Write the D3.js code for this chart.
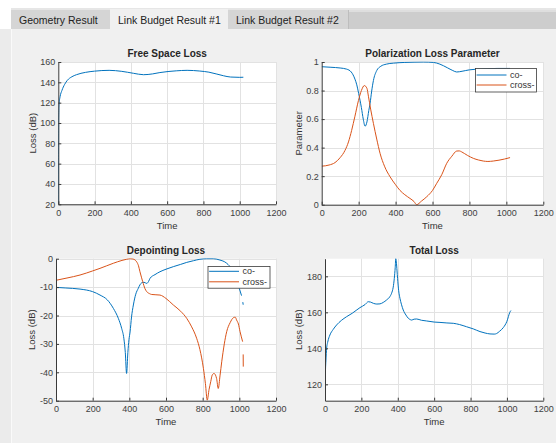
<!DOCTYPE html>
<html><head><meta charset="utf-8">
<script src="https://cdn.jsdelivr.net/npm/d3@7"></script>
<style>body{margin:0;background:#fff;font-family:Arial,"Liberation Sans",sans-serif}svg{display:block}</style>
</head><body><svg id="c" width="556" height="443"></svg>
<script>
// ---------- data ----------
const tabLabels = ["Geometry Result", "Link Budget Result #1", "Link Budget Result #2"];
const xTicks = [0, 200, 400, 600, 800, 1000, 1200];

const freeTicks = [20, 40, 60, 80, 100, 120, 140, 160];
const freeTime = [0,1,2,4,10,20,35,50,75,100,150,200,280,350,414,470,520,560,650,710,780,830,870,910,950,1000,1020];
const freeLoss = [20,60,105,118,126,132,138,142,145.5,147.5,149.8,151,151.8,150.8,148.9,147.5,148.3,149.6,151.3,151.8,151.1,150,148.3,146.5,145.2,144.9,145];

const polTicks = [0, 0.2, 0.4, 0.6, 0.8, 1];
const polCoTime = [0,50,100,135,160,180,190,200,215,225,235,245,255,262,270,280,298,320,350,388,450,500,550,605,640,680,710,731,760,800,850,900,950,1000,1020];
const polCo = [0.967,0.963,0.958,0.95,0.93,0.88,0.84,0.78,0.68,0.6,0.55,0.58,0.66,0.71,0.79,0.87,0.94,0.97,0.985,0.992,0.997,0.999,1.0,0.997,0.985,0.96,0.94,0.93,0.935,0.945,0.95,0.953,0.955,0.955,0.955];
const polCrossTime = [0,40,72,100,126,145,162,180,199,215,231,245,253,265,280,298,316,340,370,400,424,450,478,500,514,540,569,600,623,650,677,705,731,745,758,790,821,850,875,900,929,960,990,1020];
const polCross = [0.27,0.278,0.295,0.33,0.38,0.44,0.52,0.62,0.73,0.8,0.835,0.815,0.76,0.67,0.57,0.46,0.36,0.27,0.196,0.14,0.10,0.07,0.044,0.022,0.0,0.025,0.056,0.1,0.15,0.21,0.29,0.34,0.376,0.377,0.37,0.345,0.325,0.313,0.306,0.303,0.306,0.312,0.32,0.33];

const depTicks = [-50, -40, -30, -20, -10, 0];
const depCoTime = [0,50,131,200,240,280,313,340,358,370,378,385,392,398,404,412,422,435,449,458,467,480,495,505,513,540,567,600,640,680,713,750,785,820,858,890,931,960,985,1000,1012,null,1019,1021];
const depCo = [-10.1,-10.3,-10.7,-11.6,-12.8,-14.5,-17.5,-21,-24.5,-28,-33,-40.4,-33,-28.5,-25.8,-20.5,-16.3,-12.5,-10.4,-9.2,-8.5,-8.3,-8.7,-8,-6.9,-5.6,-4.6,-3.7,-2.8,-2,-1.3,-0.7,-0.2,0,0,-0.4,-1.6,-3.8,-7.5,-10.5,-13,null,-15.3,-16.2];
const depCrossTime = [0,60,131,200,240,313,360,385,405,420,432,440,450,458,466,473,485,495,510,522,545,567,600,640,680,713,740,767,785,804,815,825,835,844,852,862,870,876,885,895,904,918,931,950,967,978,985,995,1004,1018,null,1021,1021.5];
const depCross = [-7.6,-6.8,-5.75,-4.3,-3.4,-1.6,-0.6,-0.2,0,-0.1,-0.5,-1.1,-2.5,-4.6,-6.5,-8.1,-10.5,-11.6,-12.3,-12.6,-12.7,-12.8,-14,-16.3,-18.5,-21,-24,-28,-32,-38.6,-44,-49.8,-46,-43.3,-41,-40.4,-41,-42.2,-45.7,-41,-36.3,-30,-25.7,-22.5,-20.8,-20.6,-21.6,-23,-25.7,-29.2,null,-33.7,-38];

const totTicks = [120, 140, 160, 180];
const totTime = [0,2,5,9,15,27,45,64,90,119,150,192,220,238,250,266,285,302,320,339,355,366,375,381,386,389,392,396,399,405,412,420,430,445,458,468,476,490,504,530,559,600,632,670,705,740,778,815,852,880,907,930,943,960,980,1000,1016,1022];
const totLoss = [110.9,125,133,140,143.5,147.4,150.5,153,155.5,157.6,159.5,162.6,164.3,165.9,165.7,165,164.6,164.7,165.5,166.9,168.5,170.6,174,178.9,185,189.8,188,183,178.9,172,167.8,164.5,161.3,158.5,156.7,156,155.7,156.2,156.3,155.6,155.2,154.6,154.4,154.1,153.9,153.2,152,150.8,149.3,148.5,148,147.9,148.2,149.5,151.5,155,160,161];

const seriesNames = ["co-", "cross-"];
const BLUE = "#0072BD", ORANGE = "#D95319";

// ---------- chrome ----------
const svg = d3.select("#c");
svg.append("rect").attr("width",556).attr("height",443).attr("fill","#fff");
svg.append("rect").attr("x",0).attr("y",29).attr("width",11).attr("height",414).attr("fill","#ebebeb");
svg.append("rect").attr("x",11).attr("y",29).attr("width",545).attr("height",414).attr("fill","#f0f0f0");
svg.append("line").attr("x1",11.5).attr("x2",11.5).attr("y1",29).attr("y2",443).attr("stroke","#fafafa");
svg.append("rect").attr("x",11).attr("y",8).attr("width",545).attr("height",2).attr("fill","#e6e6e6");
svg.append("rect").attr("x",348).attr("y",10).attr("width",208).attr("height",19).attr("fill","#cdcdcd");
svg.append("rect").attr("x",348).attr("y",10).attr("width",208).attr("height",2).attr("fill","#dedede");
const tabs = [{x0:11,x1:110,sel:false},{x0:110,x1:228,sel:true},{x0:228,x1:348,sel:false}];
tabs.forEach((t,i)=>{
  svg.append("rect").attr("x",t.x0).attr("y",t.sel?9:10).attr("width",t.x1-t.x0).attr("height",t.sel?20:19)
    .attr("fill",t.sel?"#f0f0f0":"#d5d5d5");
  svg.append("text").attr("x",t.x0+8).attr("y",24).attr("font-size","10.5px").attr("fill","#222")
    .text(tabLabels[i]);
});
svg.append("line").attr("x1",348.5).attr("x2",348.5).attr("y1",10).attr("y2",29).attr("stroke","#bdbdbd");

// ---------- panels ----------
function panel(cfg){
  const g = svg.append("g");
  const x = d3.scaleLinear().domain([0,1200]).range([cfg.l,cfg.r]);
  const y = d3.scaleLinear().domain(cfg.yDomain).range([cfg.b,cfg.t]);
  g.append("rect").attr("x",cfg.l).attr("y",cfg.t).attr("width",cfg.r-cfg.l).attr("height",cfg.b-cfg.t).attr("fill","#fff");
  // grid
  g.selectAll(".gx").data(xTicks.slice(1)).join("line")
    .attr("x1",d=>Math.round(x(d))+0.5).attr("x2",d=>Math.round(x(d))+0.5)
    .attr("y1",cfg.t).attr("y2",cfg.b).attr("stroke","#e2e2e2");
  g.selectAll(".gy").data(cfg.yTicks).join("line")
    .attr("x1",cfg.l).attr("x2",cfg.r)
    .attr("y1",d=>Math.round(y(d))+0.5).attr("y2",d=>Math.round(y(d))+0.5).attr("stroke","#e2e2e2");
  // clip
  const id = "clip"+cfg.id;
  svg.append("clipPath").attr("id",id).append("rect").attr("x",cfg.l).attr("y",cfg.t-0.5).attr("width",cfg.r-cfg.l).attr("height",cfg.b-cfg.t+1);
  cfg.series.forEach(s=>{
    const pts = s.t.map((tt,i)=>[tt,s.v[i]]);
    const line = d3.line().defined(d=>d[0]!=null && d[1]!=null).x(d=>x(d[0])).y(d=>y(d[1])).curve(d3.curveMonotoneX);
    g.append("path").attr("clip-path",`url(#${id})`).attr("d",line(pts)).attr("fill","none")
      .attr("stroke",s.color).attr("stroke-width",1);
  });
  // axes
  const ax = g.append("g").attr("transform",`translate(0,${cfg.b})`)
    .call(d3.axisBottom(x).tickValues(xTicks).tickFormat(d3.format("d")).tickSizeInner(-3).tickSizeOuter(0).tickPadding(5));
  const ay = g.append("g").attr("transform",`translate(${cfg.l},0)`)
    .call(d3.axisLeft(y).tickValues(cfg.yTicks).tickFormat(d=>String(d)).tickSizeInner(-3).tickSizeOuter(0).tickPadding(3));
  [ax,ay].forEach(a=>{
    a.select(".domain").attr("stroke","#3a3a3a").attr("stroke-width",1);
    a.selectAll(".tick line").attr("stroke","#3a3a3a");
    a.selectAll("text").attr("font-size","9px").attr("fill","#404040").attr("font-family","Arial, 'Liberation Sans', sans-serif");
  });
  ax.selectAll("text").attr("dy","0.71em");
  // title & labels
  g.append("text").attr("x",(cfg.l+cfg.r)/2).attr("y",cfg.t-5).attr("text-anchor","middle")
    .attr("font-size","10px").attr("font-weight","bold").attr("fill","#262626").text(cfg.title);
  g.append("text").attr("x",(cfg.l+cfg.r)/2).attr("y",cfg.b+24.5).attr("text-anchor","middle")
    .attr("font-size","9.5px").attr("fill","#333").text("Time");
  g.append("text").attr("transform",`translate(${cfg.ylx},${(cfg.t+cfg.b)/2}) rotate(-90)`).attr("dy","0.35em")
    .attr("text-anchor","middle").attr("font-size","9.5px").attr("fill","#333").text(cfg.ylabel);
  // legend
  if(cfg.legend){
    const L = cfg.legend;
    const lg = g.append("g");
    lg.append("rect").attr("x",L.x+0.5).attr("y",L.y+0.5).attr("width",L.w).attr("height",L.h)
      .attr("fill","#fff").attr("stroke","#3a3a3a").attr("stroke-width",0.8);
    cfg.series.forEach((s,i)=>{
      const yy = L.y + L.r1 + i*(L.r2-L.r1);
      lg.append("line").attr("x1",L.x+1.6).attr("x2",L.x+31.5).attr("y1",yy).attr("y2",yy).attr("stroke",s.color).attr("stroke-width",1);
      lg.append("text").attr("x",L.x+35).attr("y",yy).attr("dy","0.35em").attr("font-size","9px").attr("fill","#333").text(seriesNames[i]);
    });
  }
}

panel({id:1,l:58.3,r:276,t:62,b:204.3,yDomain:[20,160],yTicks:freeTicks,title:"Free Space Loss",ylabel:"Loss (dB)",ylx:32.3,
  series:[{t:freeTime,v:freeLoss,color:BLUE}]});
panel({id:2,l:321.7,r:543.3,t:62,b:204.7,yDomain:[0,1],yTicks:polTicks,title:"Polarization Loss Parameter",ylabel:"Parameter",ylx:298.3,
  series:[{t:polCoTime,v:polCo,color:BLUE},{t:polCrossTime,v:polCross,color:ORANGE}],
  legend:{x:475,y:68,w:61,h:23.5,r1:7,r2:17}});
panel({id:3,l:56,r:276,t:258.7,b:400.7,yDomain:[-50,0],yTicks:depTicks,title:"Depointing Loss",ylabel:"Loss (dB)",ylx:31.7,
  series:[{t:depCoTime,v:depCo,color:BLUE},{t:depCrossTime,v:depCross,color:ORANGE}],
  legend:{x:207.5,y:266,w:62,h:21.7,r1:5.3,r2:15.8}});
panel({id:4,l:325,r:543.3,t:258.7,b:400.7,yDomain:[110.9,189.8],yTicks:totTicks,title:"Total Loss",ylabel:"Loss (dB)",ylx:298.3,
  series:[{t:totTime,v:totLoss,color:BLUE}]});
</script></body></html>
